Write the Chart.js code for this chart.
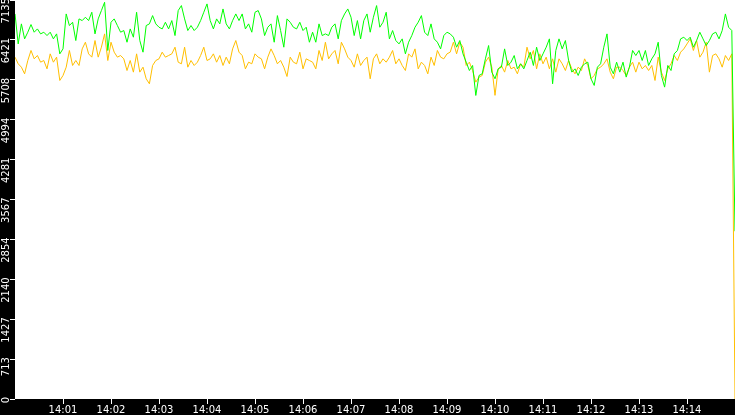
<!DOCTYPE html>
<html>
<head>
<meta charset="utf-8">
<script src="https://cdn.jsdelivr.net/npm/chart.js@4/dist/chart.umd.min.js"></script>
<style>
  html, body { margin: 0; padding: 0; background: #000; overflow: hidden; }
  #wrap { width: 735px; height: 415px; }
</style>
</head>
<body>
<div id="wrap"><canvas id="rateChart" width="735" height="415"></canvas></div>
<script>
// one sample every 4 s, 14:00:00 -> 14:15:00
const sampleStep = 4;

const greenValues = [
  6886, 6350, 6708, 6440, 6559, 6696, 6559, 6618, 6529, 6559, 6499, 6559, 6440, 6529, 6172, 6261, 6886, 6678, 6737, 6410,
  6797, 6767, 6827, 6767, 6916, 6529, 6797, 6946, 7094, 6232, 6737, 6797, 6678, 6559, 6589, 6380, 6618, 6470, 6916,
  6410, 6202, 6678, 6708, 6856, 6708, 6648, 6618, 6737, 6618, 6767, 6499, 6946, 7035, 6797, 6589, 6678, 6589, 6648, 6767,
  6916, 7065, 6767, 6618, 6797, 6708, 6975, 6708, 6618, 6767, 6886, 6767, 6886, 6618, 6708, 6559, 6916,
  6946, 6797, 6499, 6648, 6708, 6380, 6856, 6589, 6291, 6797, 6737, 6648, 6618, 6737, 6589, 6648, 6380, 6559, 6380, 6708,
  6499, 6529, 6499, 6648, 6708, 6440, 6767, 6886, 6975, 6827, 6499, 6767, 6440, 6767, 6886, 6559, 6827, 7035,
  6648, 6737, 6916, 6440, 6589, 6410, 6350, 6440, 6172, 6380, 6499, 6648, 6737, 6856, 6559, 6499, 6708, 6440, 6380, 6261,
  6499, 6559, 6529, 6470, 6291, 6410, 6172, 6023, 5874, 5964, 5428, 5785, 5815, 6083, 6321, 5845, 5726,
  5904, 5934, 6261, 5964, 6023, 6142, 5904, 5994, 5904, 6053, 6202, 5964, 6291, 6053, 6172, 6291, 6440, 5637, 6232, 6440,
  6261, 6410, 6053, 5845, 5904, 5785, 5934, 5994, 6023, 5726, 5607, 5934, 5994, 6291, 6529, 5934, 5815, 6023,
  5845, 6023, 5756, 5934, 6232, 6142, 6232, 6053, 6232, 5964, 6083, 6172, 6380, 5785, 5577, 5964, 5874, 6172, 6232, 6440,
  6470, 6410, 6470, 6291, 6410, 6559, 6440, 6321, 6410, 6529, 6559, 6440, 6589, 6886, 6648, 6589,
  3000
];

const orangeValues = [
  6113, 5994, 5934, 5815, 6053, 6232, 6083, 6142, 6023, 6053, 5904, 6172, 6023, 6113, 5696, 5785, 5934, 6232, 5964, 6053,
  5964, 6261, 6380, 6172, 6113, 6410, 6113, 6291, 6529, 6053, 6380, 6202, 6113, 6142, 6083, 5874, 6053, 5845, 6172,
  5845, 5934, 5726, 5637, 5964, 6053, 6083, 6202, 6113, 6142, 6172, 6291, 6023, 5994, 6291, 5934, 6053, 5964, 6023, 6142,
  6291, 6053, 6083, 6172, 6023, 6142, 5964, 6113, 5994, 6261, 6410, 6202, 6142, 5904, 6023, 5994, 6172,
  6113, 6083, 5904, 6113, 6261, 6142, 5994, 6053, 5934, 5767, 6113, 6023, 5994, 6202, 5904, 6083, 6053, 6023, 5904, 6232,
  6053, 6380, 6083, 6172, 6232, 5994, 6380, 6261, 6113, 6053, 5934, 6172, 5964, 6053, 6113, 5726, 6083, 6172,
  5994, 6083, 6023, 6113, 6232, 5994, 6083, 5964, 5874, 6172, 6113, 6261, 5904, 6023, 5964, 5815, 6113, 5964, 6232, 6113,
  6083, 6172, 6202, 6380, 6172, 6380, 6291, 5964, 6023, 5874, 5666, 5756, 5785, 6023, 6113, 5934, 5430,
  5904, 5964, 5845, 6053, 5904, 5934, 5815, 5994, 5934, 6291, 6083, 6232, 5904, 6172, 5994, 6113, 5904, 6083, 5845, 6083,
  5994, 5874, 6053, 5904, 5815, 5934, 5874, 6083, 5964, 5726, 5785, 5904, 5934, 5994, 6083, 5845, 5726, 5934,
  5934, 5874, 5785, 5934, 6023, 5845, 6023, 5904, 5964, 5874, 5964, 5696, 6113, 5845, 5696, 5904, 5994, 6142, 6053, 6202,
  6261, 6350, 6440, 6232, 6410, 6113, 6202, 6380, 5845, 6142, 6172, 6083, 5934, 6142, 6053, 6172,
  0
];

const xTickLabels = ['14:01', '14:02', '14:03', '14:04', '14:05', '14:06', '14:07',
                     '14:08', '14:09', '14:10', '14:11', '14:12', '14:13', '14:14'];
const yTickValues = [0, 713.5, 1427, 2140.5, 2854, 3567.5, 4281, 4994.5, 5708, 6421.5, 7135];

const toPoints = arr => arr.map((v, i) => ({ x: i * sampleStep, y: v }));

// white plot area on a black canvas
const plotBackground = {
  id: 'plotBackground',
  beforeDraw(chart) {
    const { ctx, chartArea: a } = chart;
    ctx.save();
    ctx.fillStyle = '#fff';
    ctx.fillRect(a.left, a.top, a.right - a.left, a.bottom - a.top);
    ctx.restore();
  }
};

const ctx = document.getElementById('rateChart').getContext('2d');
const rateChart = new Chart(ctx, {
  type: 'line',
  data: {
    datasets: [{
      label: 'green',
      data: toPoints(greenValues),
      borderColor: '#00ff00',
      borderWidth: 1,
      pointRadius: 0,
      tension: 0
    }, {
      label: 'orange',
      data: toPoints(orangeValues),
      borderColor: '#ffbf00',
      borderWidth: 1,
      pointRadius: 0,
      tension: 0
    }]
  },
  options: {
    responsive: false,
    animation: false,
    devicePixelRatio: 1,
    layout: { padding: 0 },
    plugins: { legend: { display: false }, tooltip: { enabled: false } },
    scales: {
      x: {
        type: 'linear',
        min: 0,
        max: 900,
        grid: { drawOnChartArea: false, drawTicks: true, tickLength: 5, color: '#fff' },
        border: { display: false },
        ticks: {
          autoSkip: false,
          maxRotation: 0,
          padding: 0,
          color: '#fff',
          font: { family: 'DejaVu Sans', size: 10 },
          callback: (v) => xTickLabels[v / 60 - 1]
        },
        afterBuildTicks: (axis) => {
          axis.ticks = xTickLabels.map((_, i) => ({ value: (i + 1) * 60 }));
        },
        afterFit: (axis) => {
          axis.height = 16;
          axis.paddingLeft = 0;
          axis.paddingRight = 0;
        }
      },
      y: {
        min: 0,
        max: 7135,
        grid: { drawOnChartArea: false, drawTicks: true, tickLength: 5, color: '#fff' },
        border: { display: false },
        ticks: {
          autoSkip: false,
          minRotation: 90,
          maxRotation: 90,
          padding: 4,
          labelOffset: -2,
          color: '#fff',
          font: { family: 'DejaVu Sans', size: 10 },
          callback: (v) => String(Math.floor(v))
        },
        afterBuildTicks: (axis) => {
          axis.ticks = yTickValues.map(v => ({ value: v }));
        },
        afterFit: (axis) => {
          axis.width = 15;
          axis.paddingTop = 0;
          axis.paddingBottom = 0;
        }
      }
    }
  },
  plugins: [plotBackground]
});
</script>
</body>
</html>
